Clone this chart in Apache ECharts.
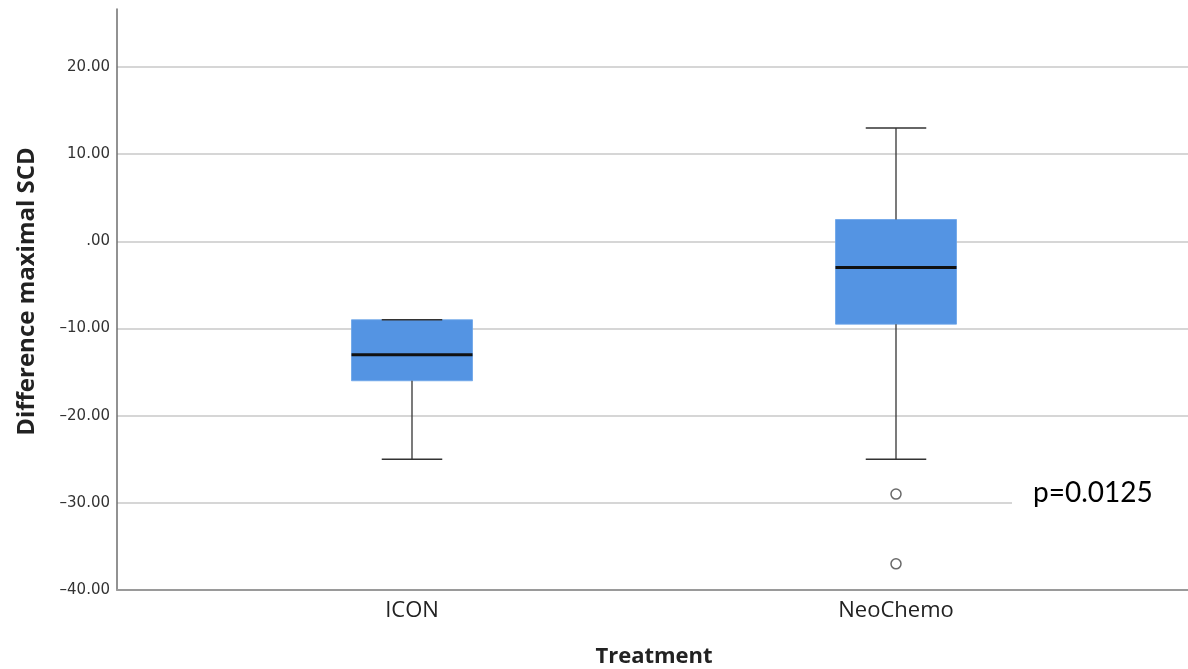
<!DOCTYPE html>
<html>
<head>
<meta charset="utf-8">
<script src="https://cdn.jsdelivr.net/npm/echarts@6/dist/echarts.min.js"></script>
<style>html,body{margin:0;padding:0;background:#fff}#c{width:1188px;height:669px}</style>
</head>
<body>
<div id="c"></div>
<script>
// ---- data ----
const categories = ['ICON', 'NeoChemo'];
const whiskerLow = [-25, -25];
const q1 = [-16, -9.5];
const median = [-13, -3];
const q3 = [-9, 2.5];
const whiskerHigh = [-9, 13];
const outlierCategory = [1, 1];
const outlierValue = [-29, -37];
const yTicks = [-40, -30, -20, -10, 0, 10, 20];
const pText = 'p=0.0125';

const boxData = categories.map((c, i) => [i, whiskerLow[i], q1[i], median[i], q3[i], whiskerHigh[i]]);
const outliers = outlierValue.map((v, i) => [outlierCategory[i], v]);

const yMin = -40, yMax = 26.65;

function fmt(v) {
  if (v === 0) return '.00';
  return v.toFixed(2).replace('-', '\u2013');
}

const chart = echarts.init(document.getElementById('c'), null, {renderer: 'canvas'});
chart.setOption({
  backgroundColor: '#fff',
  animation: false,
  grid: [
    {left: 117, right: 0, top: 9, bottom: 79, containLabel: false, outerBoundsMode: 'none'},
    {left: 170, right: 50, top: 9, bottom: 79, containLabel: false, outerBoundsMode: 'none'}
  ],
  xAxis: [
    {gridIndex: 0, type: 'value', min: 0, max: 1,
     axisLine: {show: true, onZero: false, lineStyle: {color: '#9a9a9a', width: 2}},
     axisTick: {show: false}, axisLabel: {show: false}, splitLine: {show: false}},
    {gridIndex: 1, type: 'category', data: categories, boundaryGap: true,
     axisLine: {show: false, onZero: false}, axisTick: {show: false},
     axisLabel: {margin: 10, fontFamily: 'Open Sans', fontSize: 22, color: '#222'},
     name: 'Treatment', nameLocation: 'middle', nameGap: 56,
     nameTextStyle: {fontFamily: 'Open Sans', fontWeight: 'bold', fontSize: 22, color: '#222'}}
  ],
  yAxis: [
    {gridIndex: 0, type: 'value', min: yMin, max: yMax, interval: 10,
     axisLine: {show: true, lineStyle: {color: '#6e6e6e', width: 1.5}},
     axisTick: {show: false},
     axisLabel: {margin: 7, fontFamily: 'DejaVu Sans', fontSize: 15, color: '#333',
       showMaxLabel: false,
       formatter: v => (yTicks.indexOf(Math.round(v * 100) / 100) >= 0 ? fmt(v) : '')},
     splitLine: {show: true, showMaxLine: false, lineStyle: {color: '#d6d6d6', width: 2}},
     name: 'Difference maximal SCD', nameLocation: 'middle', nameGap: 78,
     nameTextStyle: {fontFamily: 'Open Sans', fontWeight: 'bold', fontSize: 24, color: '#222', padding: [0, 0, 0, 16]}},
    {gridIndex: 1, type: 'value', min: yMin, max: yMax, interval: 10, show: false,
     axisLine: {show: false}, axisLabel: {show: false}, splitLine: {show: false}, axisTick: {show: false}}
  ],
  series: [
    {
      type: 'custom', xAxisIndex: 1, yAxisIndex: 1, data: boxData, z: 5,
      renderItem: function (params, api) {
        const x = api.value(0);
        const pLo = api.coord([x, api.value(1)]);
        const pQ1 = api.coord([x, api.value(2)]);
        const pMed = api.coord([x, api.value(3)]);
        const pQ3 = api.coord([x, api.value(4)]);
        const pHi = api.coord([x, api.value(5)]);
        const band = api.size([1, 0])[0];
        const bw = band * 0.25, cw = bw / 2;
        const cx = pMed[0];
        const lineStyle = {stroke: '#333', lineWidth: 1.3};
        return {
          type: 'group',
          children: [
            {type: 'rect', shape: {x: cx - bw / 2, y: pQ3[1], width: bw, height: pQ1[1] - pQ3[1]},
             style: {fill: '#5494e3', stroke: '#6aa3e8', lineWidth: 0.8}},
            {type: 'line', shape: {x1: cx, y1: pQ1[1], x2: cx, y2: pLo[1]}, style: lineStyle},
            {type: 'line', shape: {x1: cx, y1: pQ3[1], x2: cx, y2: pHi[1]}, style: lineStyle},
            {type: 'line', shape: {x1: cx - cw / 2, y1: pLo[1], x2: cx + cw / 2, y2: pLo[1]}, style: lineStyle},
            {type: 'line', shape: {x1: cx - cw / 2, y1: pHi[1], x2: cx + cw / 2, y2: pHi[1]}, style: lineStyle},
            {type: 'line', shape: {x1: cx - bw / 2, y1: pMed[1], x2: cx + bw / 2, y2: pMed[1]},
             style: {stroke: '#111', lineWidth: 3}}
          ]
        };
      }
    },
    {
      type: 'scatter', xAxisIndex: 1, yAxisIndex: 1, data: outliers, z: 6,
      symbol: 'circle', symbolSize: 10,
      itemStyle: {color: '#fff', borderColor: '#444', borderWidth: 1.5}
    }
  ],
  graphic: [
    {type: 'rect', left: 1012, top: 494, z: 100, shape: {width: 176, height: 16}, style: {fill: '#fff'}},
    {type: 'text', left: 1033, top: 479, z: 101,
     style: {text: pText, fontFamily: 'Lato', fontSize: 28, fill: '#000'}}
  ]
});
</script>
</body>
</html>
